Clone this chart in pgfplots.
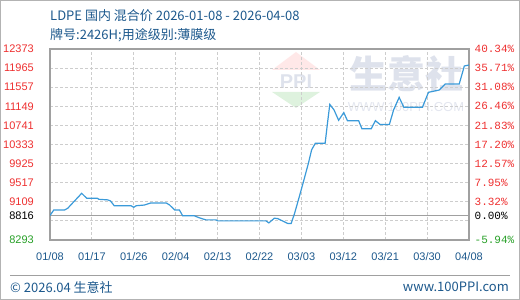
\documentclass[border=0pt]{standalone}
\usepackage{fontspec}
\setmainfont{Liberation Sans}
\newfontfamily\cjk{Noto Sans CJK SC}
\newfontfamily\mono{Liberation Mono}
\usepackage{pgfplots}
\pgfplotsset{compat=1.18}

\definecolor{linec}{RGB}{58,154,217}
\definecolor{txtblue}{RGB}{28,88,140}
\definecolor{lblred}{RGB}{238,48,48}
\definecolor{lblgreen}{RGB}{40,160,40}
\definecolor{framec}{RGB}{160,160,160}
\definecolor{gridc}{RGB}{205,205,205}
\definecolor{wmgray}{RGB}{222,226,236}

\begin{document}
\begin{tikzpicture}
\useasboundingbox (0pt,0pt) rectangle (520pt,300pt);
\draw[framec!80, line width=1pt] (0.5pt,0.5pt) rectangle (519.5pt,299.5pt);

% header
\node[anchor=west, inner sep=0, text=txtblue] at (50pt,284pt)
  {\cjk\fontsize{13}{15}\selectfont LDPE 国内 混合价 2026-01-08 - 2026-04-08};
\node[anchor=west, inner sep=0, text=txtblue] at (50pt,265pt)
  {\cjk\fontsize{13}{15}\selectfont 牌号:2426H;用途级别:薄膜级};

% watermark
\fill[red!70, opacity=0.13] (272pt,230pt) -- (320pt,230pt) -- (296pt,248pt) -- cycle;
\node[text=wmgray, inner sep=0, font=\bfseries\fontsize{20}{22}\selectfont] at (296pt,218pt) {PPI};
\fill[green!60!black, opacity=0.13] (272pt,208pt) -- (320pt,208pt) -- (296pt,192pt) -- cycle;
\node[text=wmgray, inner sep=0] at (406pt,226pt) {\cjk\bfseries\fontsize{38}{40}\selectfont 生意社};
\node[text=wmgray!85, inner sep=0] at (406pt,193pt) {\fontsize{13}{15}\selectfont WWW.100PPI.COM};

\begin{axis}[
  at={(50pt,60pt)}, anchor=south west,
  scale only axis, width=419pt, height=191pt,
  xmin=0, xmax=90, ymin=8293, ymax=12373,
  scaled y ticks=false, scaled x ticks=false,
  axis line style={framec, line width=1.2pt},
  major tick length=0pt,
  xtick={0,9,...,90},
  xticklabels={01/08,01/17,01/26,02/04,02/13,02/22,03/03,03/12,03/21,03/30,04/08},
  ytick={8293,8701,8816,9109,9517,9925,10333,10741,11149,11557,11965,12373},
  yticklabels={\textcolor{lblgreen}{8293},,\textcolor{black}{8816},9109,9517,9925,10333,10741,11149,11557,11965,12373},
  xmajorgrids, ymajorgrids,
  grid style={gridc, line width=0.8pt, dash pattern=on 3pt off 2pt},
  tick label style={font=\fontsize{11}{13}\selectfont},
  xticklabel style={text=txtblue, inner sep=0pt, yshift=-12pt},
  yticklabel style={text=lblred, anchor=east, inner sep=0pt, xshift=-16pt},
]
\draw[framec, line width=1.2pt] (axis cs:0,8816) -- (axis cs:90,8816);
\addplot[linec, line width=1.2pt] coordinates {
(0,8816) (0.8,8933) (3.1,8933) (3.8,8970) (6.8,9290) (7.9,9183) (10.2,9183)
(10.5,9162) (12.4,9150) (13.0,9126) (13.8,9025) (17.4,9025) (18.0,8991)
(18.5,9025) (20.3,9040) (21.6,9083) (25.0,9083) (25.7,9040) (26.8,8933)
(27.8,8933) (28.5,8810) (31.0,8810) (32.0,8770) (32.8,8744) (33.5,8723)
(35.7,8723) (36.0,8701) (46.4,8701) (47.0,8658) (48.2,8759) (48.9,8750)
(51.1,8645) (51.8,8645) (52.5,8850) (53.5,9200) (54.5,9560) (55.5,9930)
(56.2,10220) (57.0,10360) (59.1,10360) (59.6,10785) (60.1,11190) (61.0,11073)
(62.0,10850) (63.1,11015) (63.9,10840) (66.3,10840) (67.0,10670) (69.0,10670)
(69.9,10842) (70.9,10760) (72.9,10760) (73.8,11070) (75.0,11340) (76.0,11130)
(80.0,11130) (81.3,11448) (83.6,11497) (84.9,11625) (87.9,11625) (89.0,12010)
(90.0,12030)
};
\end{axis}

\begin{axis}[
  at={(50pt,60pt)}, anchor=south west,
  scale only axis, width=419pt, height=191pt,
  xmin=0, xmax=90, ymin=8293, ymax=12373,
  scaled y ticks=false,
  hide x axis, axis y line*=right,
  y axis line style={draw=none},
  major tick length=0pt,
  ytick={8293,8816,9109,9517,9925,10333,10741,11149,11557,11965,12373},
  yticklabels={\textcolor{lblgreen}{-5.94\%},\textcolor{black}{0.00\%},3.32\%,7.95\%,12.57\%,17.20\%,21.83\%,26.46\%,31.08\%,35.71\%,40.34\%},
  yticklabel style={text=lblred, anchor=west, inner sep=0pt, xshift=5.5pt,
    font=\mono\fontsize{11}{13}\selectfont},
]
\end{axis}

% footer
\draw[framec, line width=1pt] (10pt,24.5pt) -- (510pt,24.5pt);
\node[anchor=west, inner sep=0, text=txtblue] at (10pt,13pt)
  {\cjk\fontsize{13}{15}\selectfont © 2026.04 生意社};
\node[anchor=east, inner sep=0, text=txtblue] at (509pt,13pt)
  {\cjk\fontsize{13}{15}\selectfont www.100PPI.com};
\end{tikzpicture}
\end{document}
